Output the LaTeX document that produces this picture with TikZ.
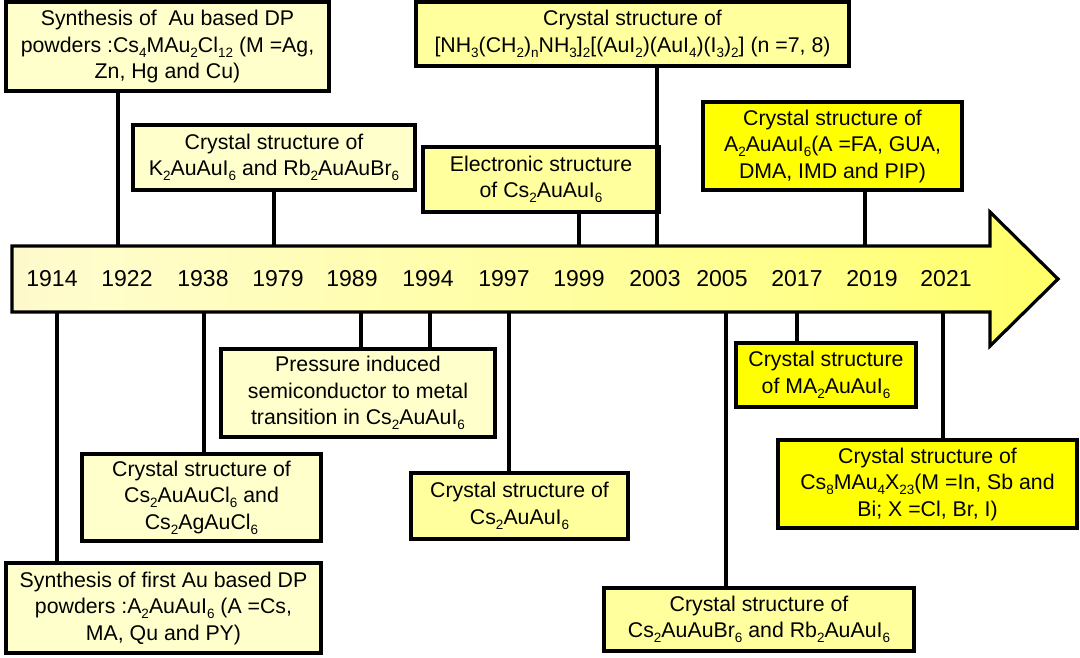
\documentclass[tikz,border=0pt]{standalone}
\usepackage{fontspec}
\setmainfont{Liberation Sans}
\newcommand{\sbs}[1]{\raisebox{-0.24em}{\fontsize{13.5}{13.5}\selectfont #1}}
\definecolor{paleY}{HTML}{FFFFCC}
\definecolor{medY}{HTML}{FFFF9E}
\definecolor{fullY}{HTML}{FFFF00}
\pgfdeclarehorizontalshading{arrshade}{100bp}{rgb(0bp)=(0.96,0.85,0.74); rgb(28bp)=(1,0.99,0.80); rgb(62bp)=(1,1,0.55); rgb(100bp)=(1,1,0.12)}
\begin{document}
\begin{tikzpicture}[x=1pt,y=-1pt,
  box/.style={draw, line width=3.2pt, inner sep=0pt, align=center, font=\fontsize{21.3}{26.5}\selectfont},
  conn/.style={line width=3.2pt},
  yr/.style={font=\fontsize{23}{23}\selectfont, inner sep=0pt}]
\useasboundingbox[fill=white] (0,0) rectangle (1080,657);
% boxes
\node[box, fill=paleY, minimum width=323, minimum height=89] (b1) at (167.5,46.5)
  {Synthesis of \ Au based DP\\ powders :Cs\sbs{4}MAu\sbs{2}Cl\sbs{12} (M =Ag,\\ Zn, Hg and Cu)};
\node[box, fill=paleY, minimum width=282, minimum height=65] (b2) at (274,157.5)
  {Crystal structure of\\ K\sbs{2}AuAuI\sbs{6} and Rb\sbs{2}AuAuBr\sbs{6}};
\node[box, fill=medY, minimum width=236, minimum height=65] (b3) at (541,179.5)
  {Electronic structure\\ of Cs\sbs{2}AuAuI\sbs{6}};
\node[box, fill=medY, minimum width=433, minimum height=64] (b4) at (632.5,34)
  {Crystal structure of\\ {[}NH\sbs{3}(CH\sbs{2})\sbs{n}NH\sbs{3}{]}\sbs{2}{[}(AuI\sbs{2})(AuI\sbs{4})(I\sbs{3})\sbs{2}{]} (n =7, 8)};
\node[box, fill=fullY, minimum width=259, minimum height=88] (b5) at (832.5,146)
  {Crystal structure of\\ A\sbs{2}AuAuI\sbs{6}(A =FA, GUA,\\ DMA, IMD and PIP)};
\node[box, fill=paleY, minimum width=274, minimum height=88] (b6) at (358,393)
  {Pressure induced\\ semiconductor to metal\\ transition in Cs\sbs{2}AuAuI\sbs{6}};
\node[box, fill=paleY, minimum width=239, minimum height=87] (b7) at (201.5,497.5)
  {Crystal structure of\\ Cs\sbs{2}AuAuCl\sbs{6} and\\ Cs\sbs{2}AgAuCl\sbs{6}};
\node[box, fill=paleY, minimum width=315, minimum height=90] (b8) at (163.5,608)
  {Synthesis of first Au based DP\\ powders :A\sbs{2}AuAuI\sbs{6} (A =Cs,\\ MA, Qu and PY)};
\node[box, fill=medY, minimum width=217, minimum height=66] (b9) at (519.5,506)
  {Crystal structure of\\ Cs\sbs{2}AuAuI\sbs{6}};
\node[box, fill=fullY, minimum width=180, minimum height=64] (b10) at (826,375)
  {Crystal structure\\ of MA\sbs{2}AuAuI\sbs{6}};
\node[box, fill=fullY, minimum width=299, minimum height=88] (b11) at (927.5,484)
  {Crystal structure of\\ Cs\sbs{8}MAu\sbs{4}X\sbs{23}(M =In, Sb and\\ Bi; X =Cl, Br, I)};
\node[box, fill=medY, minimum width=310, minimum height=63] (b12) at (759,619.5)
  {Crystal structure of\\ Cs\sbs{2}AuAuBr\sbs{6} and Rb\sbs{2}AuAuI\sbs{6}};
% connector anchor points on the arrow
\coordinate (t1) at (118,246);
\coordinate (t2) at (274,246);
\coordinate (t3) at (579,246);
\coordinate (t4) at (657,246);
\coordinate (t5) at (865,246);
\coordinate (u6a) at (361,312);
\coordinate (u6b) at (430,312);
\coordinate (u7) at (204,312);
\coordinate (u8) at (57,312);
\coordinate (u9) at (509,312);
\coordinate (u10) at (797,312);
\coordinate (u11) at (943,312);
\coordinate (u12) at (726,312);
\draw[conn] (t1) -- (t1 |- b1.south);
\draw[conn] (t2) -- (t2 |- b2.south);
\draw[conn] (t3) -- (t3 |- b3.south);
\draw[conn] (t4) -- (t4 |- b4.south);
\draw[conn] (t5) -- (t5 |- b5.south);
\draw[conn] (u6a) -- (u6a |- b6.north);
\draw[conn] (u6b) -- (u6b |- b6.north);
\draw[conn] (u7) -- (u7 |- b7.north);
\draw[conn] (u8) -- (u8 |- b8.north);
\draw[conn] (u9) -- (u9 |- b9.north);
\draw[conn] (u10) -- (u10 |- b10.north);
\draw[conn] (u11) -- (u11 |- b11.north);
\draw[conn] (u12) -- (u12 |- b12.north);
% arrow
\shade[shading=arrshade] (12,246) -- (990,246) -- (990,212) -- (1058,279) -- (990,346) -- (990,312) -- (12,312) -- cycle;
\draw[line width=3.2pt, line join=miter] (12,246) -- (990,246) -- (990,212) -- (1058,279) -- (990,346) -- (990,312) -- (12,312) -- cycle;
% years
\node[yr] (y1914) at (52,279) {1914};
\node[yr] (y1922) at (127,279) {1922};
\node[yr] (y1938) at (203,279) {1938};
\node[yr] (y1979) at (278,279) {1979};
\node[yr] (y1989) at (352,279) {1989};
\node[yr] (y1994) at (428,279) {1994};
\node[yr] (y1997) at (504,279) {1997};
\node[yr] (y1999) at (579,279) {1999};
\node[yr] (y2003) at (655,279) {2003};
\node[yr] (y2005) at (722,279) {2005};
\node[yr] (y2017) at (797,279) {2017};
\node[yr] (y2019) at (872,279) {2019};
\node[yr] (y2021) at (946,279) {2021};
\end{tikzpicture}
\end{document}
